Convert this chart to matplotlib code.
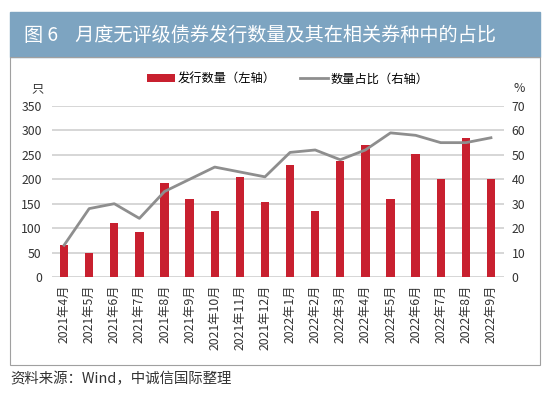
import matplotlib.pyplot as plt
from matplotlib.patches import Rectangle
import numpy as np

plt.rcParams['font.family'] = ['Noto Sans CJK SC', 'DejaVu Sans']

months = ["2021年4月", "2021年5月", "2021年6月", "2021年7月", "2021年8月", "2021年9月",
          "2021年10月", "2021年11月", "2021年12月", "2022年1月", "2022年2月", "2022年3月",
          "2022年4月", "2022年5月", "2022年6月", "2022年7月", "2022年8月", "2022年9月"]
counts = [65, 50, 110, 92, 193, 160, 135, 205, 153, 230, 135, 238, 270, 160, 252, 200, 285, 200]
shares = [13, 28, 30, 24, 35, 40, 45, 43, 41, 51, 52, 48, 52, 59, 58, 55, 55, 57]

RED = "#C8202F"
GREY = "#8E8E8E"
HEADER = "#7DA4C1"
TXT = "#333333"

fig = plt.figure(figsize=(5.5, 3.97), dpi=100)

# header band and frame
fig.patches.append(Rectangle((10 / 550, 1 - 57 / 397), 530 / 550, 45 / 397,
                             transform=fig.transFigure, color=HEADER, zorder=0))
fig.patches.append(Rectangle((10 / 550, 1 - 365 / 397), 530 / 550, 308 / 397,
                             transform=fig.transFigure, fill=False, edgecolor="#A0A0A0",
                             linewidth=0.8, zorder=0))
fig.text(24 / 550, 1 - 35 / 397, "图 6    月度无评级债券发行数量及其在相关券种中的占比",
         color="white", fontsize=13.8, va="center", ha="left")
fig.text(10 / 550, 1 - 379 / 397, "资料来源：Wind，中诚信国际整理",
         fontsize=10.4, va="center", ha="left", color=TXT)

ax = fig.add_axes([51.5 / 550, 1 - 277 / 397, 452 / 550, 171 / 397])
x = np.arange(len(months))
ax.bar(x, counts, width=0.33, color=RED, zorder=3, label="发行数量（左轴）")
ax.set_ylim(0, 350)
ax.set_yticks(range(0, 351, 50))
ax.set_xlim(-0.5, len(months) - 0.5)
ax.set_xticks(x)
ax.set_xticklabels(months, rotation=90, fontsize=8.6, color=TXT)
ax.yaxis.grid(True, color="#D3D3D3", linewidth=1.3, zorder=0)
ax.set_axisbelow(True)

ax2 = ax.twinx()
ax2.plot(x, shares, color=GREY, linewidth=2, zorder=4, label="数量占比（右轴）")
ax2.set_ylim(0, 70)
ax2.set_yticks(range(0, 71, 10))

for a in (ax, ax2):
    for s in a.spines.values():
        s.set_visible(False)
    a.tick_params(length=0, labelsize=8.8, labelcolor=TXT)
ax.tick_params(axis="x", pad=5.5)
ax.tick_params(axis="y", pad=7)
ax2.tick_params(axis="y", pad=6)

fig.text(38 / 550, 1 - 89 / 397, "只", fontsize=8.8, ha="center", va="center", color=TXT)
fig.text(519 / 550, 1 - 89 / 397, "%", fontsize=8.8, ha="center", va="center", color=TXT)

h1, l1 = ax.get_legend_handles_labels()
h2, l2 = ax2.get_legend_handles_labels()
fig.legend(h1 + h2, l1 + l2, loc="center left", bbox_to_anchor=(147 / 550, 1 - 79 / 397),
           ncol=2, frameon=False, fontsize=8.8, handlelength=2.3, handleheight=0.55,
           columnspacing=2.0, handletextpad=0.2, borderpad=0, borderaxespad=0)

fig.savefig("out.png", dpi=100)
